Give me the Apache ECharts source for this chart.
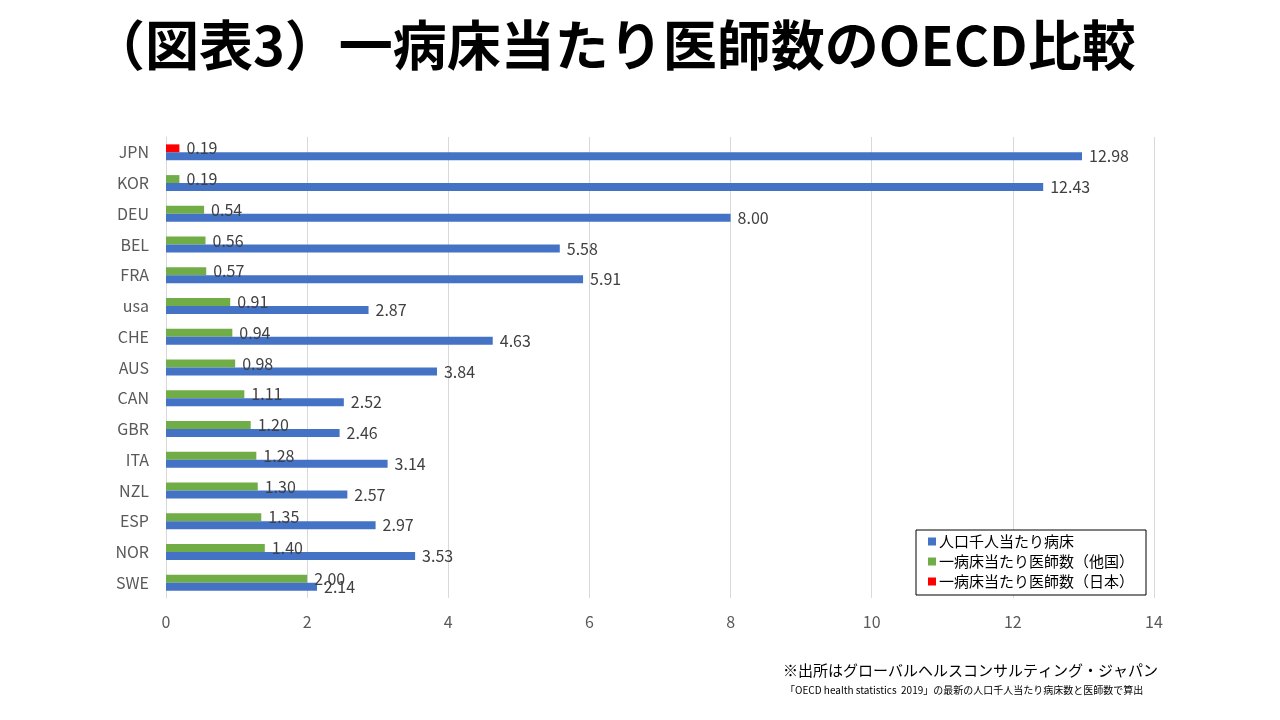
<!DOCTYPE html>
<html><head><meta charset="utf-8">
<script src="https://cdn.jsdelivr.net/npm/echarts@6/dist/echarts.min.js"></script>
<style>html,body{margin:0;padding:0;background:#fff;}#c{width:1280px;height:720px;}</style>
</head><body><div id="c"></div>
<script>
const categories = ['JPN','KOR','DEU','BEL','FRA','usa','CHE','AUS','CAN','GBR','ITA','NZL','ESP','NOR','SWE'];
const doctorsPerBedOther = ['-',0.19,0.54,0.56,0.57,0.91,0.94,0.98,1.11,1.20,1.28,1.30,1.35,1.40,2.00];
const doctorsPerBedJapan = [0.19,'-','-','-','-','-','-','-','-','-','-','-','-','-','-'];
const bedsPer1000 = [12.98,12.43,8.00,5.58,5.91,2.87,4.63,3.84,2.52,2.46,3.14,2.57,2.97,3.53,2.14];
const xTicks = [0,2,4,6,8,10,12,14];

const font = '"Noto Sans CJK JP", "Noto Sans", sans-serif';
const lbl = {show:true, position:'right', distance:7, fontSize:16, color:'#404040', fontFamily:font,
  formatter: p => Number(p.value).toFixed(2)};
const chart = echarts.init(document.getElementById('c'));
chart.setOption({
  animation:false,
  backgroundColor:'#fff',
  title:[
    {text:'（図表3）一病床当たり医師数のOECD比較', left:86, top:13,
     textStyle:{fontSize:54, fontWeight:'bold', color:'#000', fontFamily:font}},
    {text:'※出所はグローバルヘルスコンサルティング・ジャパン', left:778, top:658,
     textStyle:{fontSize:15, fontWeight:'normal', color:'#000', fontFamily:font}},
    {text:'「OECD health statistics  2019」の最新の人口千人当たり病床数と医師数で算出', left:780, top:680,
     textStyle:{fontSize:10, fontWeight:'normal', color:'#000', fontFamily:font}}
  ],
  legend:{
    orient:'vertical', left:916, top:530,
    data:['人口千人当たり病床','一病床当たり医師数（他国）','一病床当たり医師数（日本）'],
    itemWidth:8, itemHeight:8, itemGap:5, icon:'rect',
    padding:[4,12,6,12], borderColor:'#000', borderWidth:1, backgroundColor:'#fff',
    textStyle:{fontSize:15, color:'#000', fontFamily:font, padding:[0,0,0,-2]}
  },
  grid:{left:166, right:126, top:137, bottom:122, containLabel:false},
  xAxis:{type:'value', min:0, max:14, interval:2,
    axisLine:{show:false}, axisTick:{show:false},
    axisLabel:{fontSize:16, color:'#595959', margin:16, fontFamily:font},
    splitLine:{lineStyle:{color:'#d9d9d9'}}},
  yAxis:{type:'category', data:categories, inverse:true,
    axisLine:{show:true, lineStyle:{color:'#d9d9d9'}}, axisTick:{show:false},
    axisLabel:{fontSize:16, color:'#595959', margin:17, fontFamily:font}},
  series:[
    {name:'一病床当たり医師数（他国）', type:'bar', stack:'doc', data:doctorsPerBedOther,
     itemStyle:{color:'#70ad47'}, barWidth:8, barGap:'0%', label:lbl},
    {name:'一病床当たり医師数（日本）', type:'bar', stack:'doc', data:doctorsPerBedJapan,
     itemStyle:{color:'#ff0000'}, barWidth:8, label:lbl},
    {name:'人口千人当たり病床', type:'bar', data:bedsPer1000,
     itemStyle:{color:'#4472c4'}, barWidth:8, barGap:'0%', label:lbl}
  ]
});
</script></body></html>
